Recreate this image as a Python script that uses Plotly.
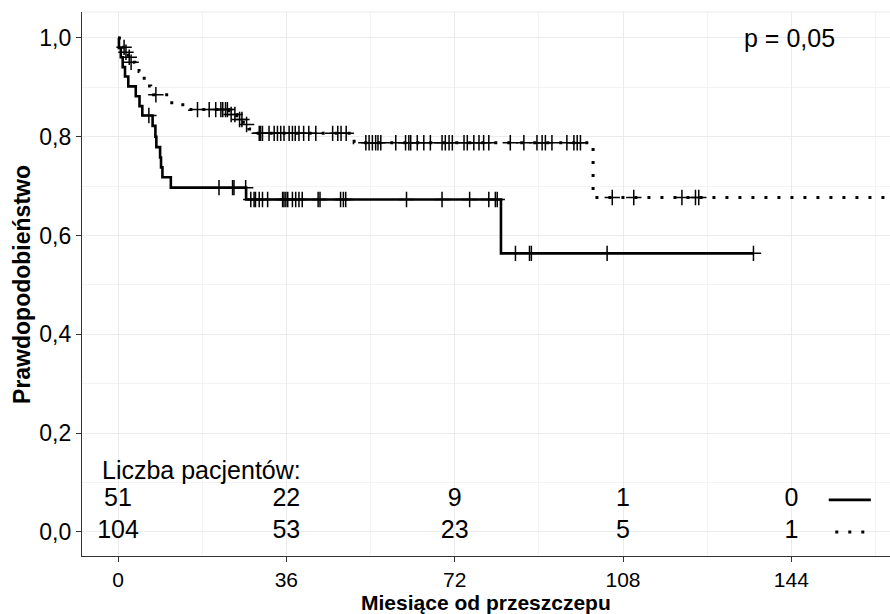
import plotly.graph_objects as go

# ---- data ----
# group A (solid): step times (months) and survival after each step
solid_times = [0, 0.2, 0.6, 1.0, 1.5, 2.2, 3.8, 4.6, 5.2, 7.4, 8.0, 8.2, 9.0, 9.2, 9.5, 11.3, 27.4, 81.9, 135.9]
solid_surv = [1.0, 0.980, 0.961, 0.941, 0.922, 0.902, 0.882, 0.862, 0.843, 0.822, 0.800, 0.779, 0.758, 0.738, 0.718, 0.697, 0.673, 0.564, 0.564]
solid_cens_t = [6.6, 21.6, 24.5, 24.8, 27.3, 28.4, 29.1, 29.4, 30.2, 30.9, 32.0, 35.2, 35.5, 35.9, 36.3,
                37.3, 38.0, 38.7, 39.4, 42.8, 43.2, 47.6, 48.2, 48.7, 61.7, 69.3, 75.2, 79.3, 80.7, 81.1,
                85.0, 88.0, 88.4, 104.6, 135.9]

# group B (dotted)
dotted_times = [0, 0.3, 0.9, 1.5, 2.2, 2.8, 3.6, 4.5, 5.0, 5.6, 6.2, 7.0, 7.6, 11.5, 15.3, 23.7, 25.4, 26.8, 28.0, 28.7, 50.5, 101.6, 165.0]
dotted_surv = [1.0, 0.990, 0.981, 0.971, 0.961, 0.951, 0.941, 0.932, 0.922, 0.913, 0.903, 0.894, 0.885, 0.865, 0.855,
               0.845, 0.835, 0.825, 0.816, 0.807, 0.788, 0.677, 0.677]
dotted_cens_t = [1.3, 1.7, 2.4, 2.8, 8.1, 17.0, 19.5, 20.9, 22.0, 22.4, 23.0, 23.4, 24.2, 25.0, 26.0, 26.5, 27.5,
                 30.2, 30.5, 30.9, 32.3, 33.4, 34.1, 34.8, 35.5, 36.6, 37.3, 37.9, 38.7, 39.7, 40.8, 42.3,
                 45.9, 47.0, 47.7, 48.8, 53.0, 53.7, 54.4, 55.1, 55.6, 56.2, 59.4, 61.5, 62.2, 62.6, 64.0,
                 65.4, 66.8, 69.3, 70.0, 70.8, 71.5, 74.0, 74.7, 76.1, 77.2, 78.2, 79.3, 83.9, 86.8, 89.6,
                 90.7, 91.4, 92.8, 96.0, 97.5, 98.2, 98.9, 105.7, 110.3, 120.6, 123.5, 124.2]

risk_times = [0, 36, 72, 108, 144]
risk_solid = [51, 22, 9, 1, 0]
risk_dotted = [104, 53, 23, 5, 1]
risk_title = "Liczba pacjentów:"
p_text = "p = 0,05"

x_ticks = [0, 36, 72, 108, 144]
y_ticks = [0.0, 0.2, 0.4, 0.6, 0.8, 1.0]
y_ticktext = ["0,0", "0,2", "0,4", "0,6", "0,8", "1,0"]
x_title = "Miesiące od przeszczepu"
y_title = "Prawdopodobieństwo"


def surv_at(times, surv, t):
    s = surv[0]
    for ti, si in zip(times, surv):
        if ti <= t:
            s = si
    return s


FONT = "Liberation Sans, Arial, sans-serif"
TXT = 25
fig = go.Figure()

fig.add_trace(go.Scatter(x=solid_times, y=solid_surv, mode="lines", line=dict(color="black", width=2.6, shape="hv"),
                         showlegend=False, hoverinfo="skip"))
fig.add_trace(go.Scatter(x=dotted_times, y=dotted_surv, mode="lines",
                         line=dict(color="black", width=3, shape="hv", dash="3px,10px"),
                         showlegend=False, hoverinfo="skip"))
fig.add_trace(go.Scatter(x=solid_cens_t, y=[surv_at(solid_times, solid_surv, t) for t in solid_cens_t],
                         mode="markers",
                         marker=dict(symbol="cross-thin", size=11, line=dict(color="black", width=1.5)),
                         showlegend=False, hoverinfo="skip"))
fig.add_trace(go.Scatter(x=dotted_cens_t, y=[surv_at(dotted_times, dotted_surv, t) for t in dotted_cens_t],
                         mode="markers",
                         marker=dict(symbol="cross-thin", size=11, line=dict(color="black", width=1.5)),
                         showlegend=False, hoverinfo="skip"))

# at-risk table
row_y_solid = 0.065
row_y_dotted = 0.0
fig.add_trace(go.Scatter(x=risk_times, y=[row_y_solid] * len(risk_times), mode="text",
                         text=[str(v) for v in risk_solid], textposition="middle center",
                         textfont=dict(family=FONT, size=TXT, color="black"), showlegend=False, hoverinfo="skip"))
fig.add_trace(go.Scatter(x=risk_times, y=[row_y_dotted] * len(risk_times), mode="text",
                         text=[str(v) for v in risk_dotted], textposition="middle center",
                         textfont=dict(family=FONT, size=TXT, color="black"), showlegend=False, hoverinfo="skip"))
# legend keys
fig.add_trace(go.Scatter(x=[152, 161], y=[row_y_solid, row_y_solid], mode="lines",
                         line=dict(color="black", width=2.6), showlegend=False, hoverinfo="skip"))
fig.add_trace(go.Scatter(x=[153.4, 161.5], y=[row_y_dotted, row_y_dotted], mode="lines",
                         line=dict(color="black", width=3, dash="3px,10px"), showlegend=False, hoverinfo="skip"))

fig.add_annotation(x=-3.8, y=0.125, text=risk_title, showarrow=False, xanchor="left", yanchor="middle",
                   font=dict(family=FONT, size=TXT, color="black"))
fig.add_annotation(x=143.5, y=1.0, text=p_text, showarrow=False, xanchor="center", yanchor="middle",
                   font=dict(family=FONT, size=TXT, color="black"))

# axis titles
fig.add_annotation(xref="paper", yref="paper", x=0.5, y=-0.085, text="<b>" + x_title + "</b>", showarrow=False,
                   xanchor="center", yanchor="middle", font=dict(family=FONT, size=21, color="black"))
fig.add_annotation(xref="paper", yref="paper", x=-0.0743, y=0.5, text="<b>" + y_title + "</b>", showarrow=False,
                   xanchor="center", yanchor="middle", textangle=-90, font=dict(family=FONT, size=23, color="black"))

# panel top line
fig.add_shape(type="line", xref="paper", yref="paper", x0=0, x1=1, y0=1, y1=1,
              line=dict(color="#ebebeb", width=1.2))

grid = "#ebebeb"
fig.update_layout(
    width=890, height=614,
    margin=dict(l=82, r=0, t=12, b=58),
    paper_bgcolor="white", plot_bgcolor="white",
    font=dict(family=FONT, color="black"),
    xaxis=dict(range=[-7.7, 165.1], tickvals=x_ticks, ticktext=[str(v) for v in x_ticks], automargin=False,
               showgrid=True, gridcolor=grid, gridwidth=1.2, zeroline=False,
               showline=True, linecolor="#333333", linewidth=1.2,
               ticks="outside", ticklen=5, tickcolor="#333333", tickwidth=1.2,
               tickfont=dict(size=21, color="black"),
               minor=dict(tickvals=[18, 54, 90, 126, 162], showgrid=True, gridcolor="#f3f3f3", gridwidth=0.8, ticks="")),
    yaxis=dict(range=[-0.0486, 1.0526], tickvals=y_ticks, ticktext=y_ticktext, automargin=False,
               showgrid=True, gridcolor=grid, gridwidth=1.2, zeroline=False,
               showline=True, linecolor="#333333", linewidth=1.2,
               ticks="outside", ticklen=5, tickcolor="#333333", tickwidth=1.2,
               tickfont=dict(size=23, color="black"),
               minor=dict(tickvals=[0.1, 0.3, 0.5, 0.7, 0.9], showgrid=True, gridcolor="#f3f3f3", gridwidth=0.8, ticks="")),
)

fig.write_html("out.html", config={"displayModeBar": False},
               post_script="document.body.style.margin='0';document.body.style.overflow='hidden';")
